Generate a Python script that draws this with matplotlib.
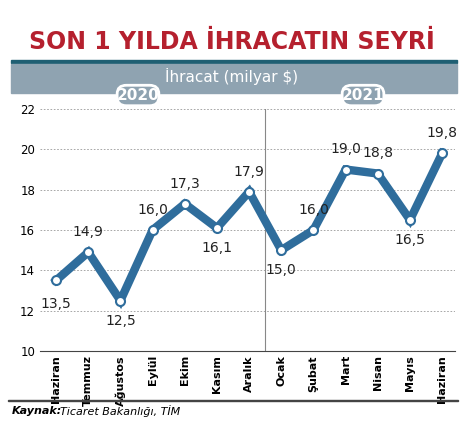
import matplotlib.pyplot as plt
from matplotlib.patches import Rectangle, FancyBboxPatch

months = ['Haziran', 'Temmuz', 'Ağustos', 'Eylül', 'Ekim', 'Kasım', 'Aralık',
          'Ocak', 'Şubat', 'Mart', 'Nisan', 'Mayıs', 'Haziran']
values = [13.5, 14.9, 12.5, 16.0, 17.3, 16.1, 17.9, 15.0, 16.0, 19.0, 18.8, 16.5, 19.8]
yticks = [10, 12, 14, 16, 18, 20, 22]

blue = '#2f6d9c'
narrow = ['Liberation Sans Narrow', 'DejaVu Sans']
fig = plt.figure(figsize=(4.64, 4.32), dpi=100)
W, H = 464, 432

def fx(x): return x / W
def fy(y): return 1 - y / H

fig.text(0.5, fy(42), 'SON 1 YILDA İHRACATIN SEYRİ', ha='center', va='center',
         color='#b5202e', fontsize=17, fontweight='bold', family=narrow)
fig.add_artist(Rectangle((fx(11), fy(63)), fx(446), 3 / H, color='#1f5f73', transform=fig.transFigure))
fig.add_artist(Rectangle((fx(11), fy(93)), fx(446), 29 / H, color='#8fa3b1', transform=fig.transFigure))
fig.text(0.5, fy(76), 'İhracat (milyar $)', ha='center', va='center', color='white', fontsize=11)

ax = fig.add_axes([fx(40), fy(351), fx(415), (351 - 109) / H])
x = range(len(values))
ax.plot(x, values, color=blue, lw=6, zorder=3, solid_joinstyle='miter')
ax.scatter(x, values, s=42, facecolor='white', edgecolor=blue, lw=1.5, zorder=4)
for i, v in enumerate(values):
    below = i > 0 and values[i] < values[i - 1] and (i == len(values) - 1 or values[i] < values[i + 1])
    off = -12 if below else 12
    if i == 0:
        off = -14
    ax.text(i, v + off * 0.083, f'{v:.1f}'.replace('.', ','), ha='center', va='center',
            fontsize=10, color='#222222', zorder=5)
ax.set_xlim(-0.5, 12.4)
ax.set_ylim(10, 22)
ax.set_yticks(yticks)
ax.set_xticks(list(x))
ax.set_xticklabels(months, rotation=90, fontsize=6.5, fontweight='bold', family=narrow)
ax.tick_params(length=0, labelsize=8)
ax.tick_params(axis='x', pad=3)
ax.tick_params(axis='y', labelsize=8.5)
ax.grid(axis='y', ls=(0, (2, 2)), color='#999999', lw=0.6)
ax.axvline(6.5, color='#888888', lw=0.8)
for s in ['top', 'right', 'left']:
    ax.spines[s].set_visible(False)
ax.spines['bottom'].set_color('#444444')

for xc, label in [(138, '2020'), (363, '2021')]:
    fig.add_artist(FancyBboxPatch((fx(xc - 19), fy(104)), fx(38), 17 / H,
                                  boxstyle='round,pad=0.004,rounding_size=0.02',
                                  fc='#8fa3b1', ec='white', lw=2, transform=fig.transFigure))
    fig.text(fx(xc), fy(95.5), label, ha='center', va='center', color='white',
             fontsize=11, fontweight='bold', family=narrow)

fig.add_artist(Rectangle((fx(8), fy(401)), fx(450), 1 / H, color='#444444', transform=fig.transFigure))
fig.text(fx(12), fy(411), 'Kaynak:', fontsize=8, va='center', fontweight='bold', fontstyle='italic')
fig.text(fx(60), fy(411), 'Ticaret Bakanlığı, TİM', fontsize=8, va='center', fontstyle='italic')

fig.savefig('out.png', dpi=100)
